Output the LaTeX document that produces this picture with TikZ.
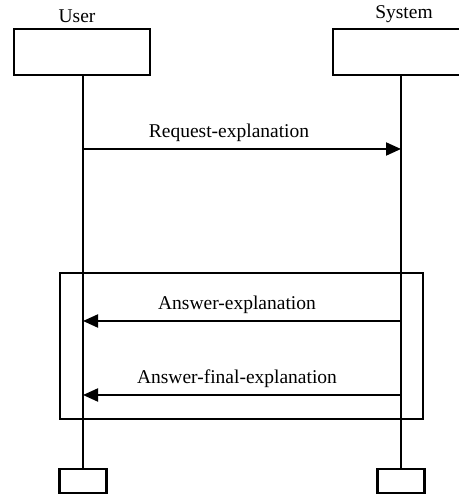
\documentclass[tikz,border=0pt]{standalone}
\usepackage{fontspec}
\setmainfont{Liberation Serif}
\usetikzlibrary{arrows.meta, positioning}

\begin{document}
\begin{tikzpicture}[
    x=1pt, y=1pt,
    head/.style={draw, line width=2.6pt, minimum width=136pt,
                 minimum height=46pt, inner sep=0pt},
    foot/.style={draw, line width=2.6pt, minimum width=47pt,
                 minimum height=24pt, inner sep=0pt},
    life/.style={line width=2pt},
    msg/.style={line width=2pt, -{Triangle[length=15pt, width=13pt]}},
    lbl/.style={font=\fontsize{19.5}{23}\selectfont, anchor=base,
                inner sep=0pt}
  ]
  \useasboundingbox (0,0) rectangle (458,495);

  % loop frame
  \node[draw, line width=2.4pt, minimum width=363pt, minimum height=146pt,
        inner sep=0pt] (frame) at (241.5,149) {};

  % actors
  \node[head] (userTop) at (82,443) {};
  \node[head] (sysTop) at (401,443) {};
  \node[foot] (userBot) at (83,14) {};
  \node[foot] (sysBot) at (401,14) {};

  \node[lbl] (userLbl) at (77,472) {User};
  \node[lbl] (sysLbl) at (404,476) {System};

  % lifelines
  \draw[life] (userTop.south -| userBot) -- (userBot.north);
  \draw[life] (sysTop.south) -- (sysBot.north);

  % messages
  \coordinate (reqU) at (83,346);
  \coordinate (reqS) at (401,346);
  \coordinate (ansU) at (83,174);
  \coordinate (ansS) at (401,174);
  \coordinate (finU) at (83,100);
  \coordinate (finS) at (401,100);

  \draw[msg] (reqU) -- (reqS);
  \draw[msg] (ansS) -- (ansU);
  \draw[msg] (finS) -- (finU);

  \node[lbl] (reqLbl) at (229,357) {Request-explanation};
  \node[lbl] (ansLbl) at (237,185) {Answer-explanation};
  \node[lbl] (finLbl) at (237,111) {Answer-final-explanation};
\end{tikzpicture}
\end{document}
